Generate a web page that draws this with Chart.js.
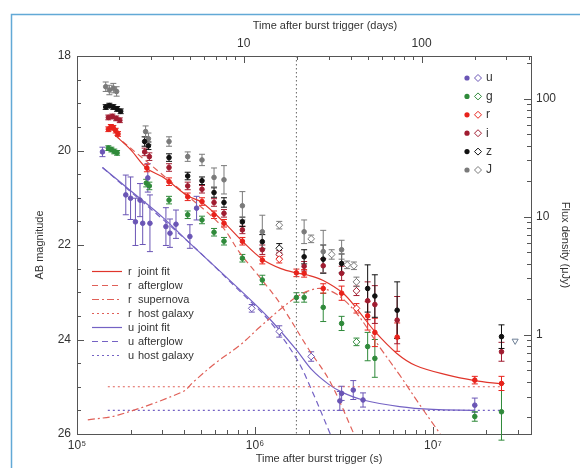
<!DOCTYPE html>
<html>
<head>
<meta charset="utf-8">
<script src="https://cdn.jsdelivr.net/npm/chart.js@4.4.1/dist/chart.umd.min.js"></script>
<style>
  html, body { margin: 0; padding: 0; background: #fff; }
  canvas { display: block; }
</style>
</head>
<body>
<canvas id="lightCurve" width="580" height="468"></canvas>
<script>
// observed points: [time after trigger (s), AB magnitude, 1-sigma error]
const uFilled = [
  [1.39e5, 20.03, 0.10], [1.88e5, 20.94, 0.42], [2.00e5, 21.01, 0.45], [2.13e5, 21.51, 0.50],
  [2.26e5, 21.05, 0.35], [2.34e5, 21.54, 0.45], [2.50e5, 20.58, 0.30], [2.57e5, 21.54, 0.60],
  [3.16e5, 21.61, 0.40], [3.33e5, 21.75, 0.30], [3.60e5, 21.56, 0.30], [4.31e5, 21.82, 0.25],
  [4.70e5, 21.22, 0.25], [3.00e6, 25.30, 0.20], [3.07e6, 25.14, 0.15], [3.57e6, 25.07, 0.20],
  [4.05e6, 25.28, 0.15], [1.72e7, 25.39, 0.15]
];
const uOpen = [[9.6e5, 23.34, 0.08], [1.37e6, 23.83, 0.12], [2.07e6, 24.36, 0.10]];

const gFilled = [
  [1.50e5, 19.95, 0.05], [1.56e5, 19.98, 0.05], [1.62e5, 20.02, 0.05], [1.68e5, 20.05, 0.05],
  [2.45e5, 20.69, 0.08], [2.55e5, 20.75, 0.08], [3.29e5, 21.05, 0.08], [4.19e5, 21.36, 0.08],
  [5.04e5, 21.47, 0.08], [5.89e5, 21.73, 0.08], [6.70e5, 21.92, 0.08], [8.50e5, 22.28, 0.08],
  [1.10e6, 22.74, 0.10], [1.71e6, 23.11, 0.10], [1.89e6, 23.11, 0.10], [2.42e6, 23.32, 0.30],
  [3.07e6, 23.66, 0.15], [4.30e6, 24.15, 0.30], [4.72e6, 24.40, 0.40], [1.72e7, 25.63, 0.10],
  [2.43e7, 25.53, 0.60]
];
const gOpen = [[3.72e6, 24.05, 0.08]];

const rFilled = [
  [1.50e5, 19.55, 0.05], [1.55e5, 19.50, 0.05], [1.60e5, 19.52, 0.05], [1.65e5, 19.58, 0.05],
  [1.70e5, 19.65, 0.05], [2.47e5, 20.37, 0.08], [3.29e5, 20.66, 0.08], [4.19e5, 20.98, 0.08],
  [5.04e5, 21.08, 0.08], [5.89e5, 21.36, 0.08], [6.70e5, 21.54, 0.08], [8.50e5, 21.92, 0.08],
  [1.10e6, 22.32, 0.08], [1.71e6, 22.59, 0.08], [1.89e6, 22.60, 0.08], [2.42e6, 22.92, 0.10],
  [3.07e6, 23.02, 0.15], [4.30e6, 23.50, 0.30], [4.72e6, 23.85, 0.30], [6.30e6, 23.95, 0.30],
  [1.72e7, 24.86, 0.08], [2.43e7, 24.93, 0.15]
];
const rOpen = [[1.37e6, 22.30, 0.08], [3.72e6, 23.34, 0.10]];

const iFilled = [
  [1.50e5, 19.30, 0.05], [1.58e5, 19.28, 0.05], [1.66e5, 19.32, 0.05], [1.74e5, 19.36, 0.05],
  [2.40e5, 20.03, 0.08], [2.55e5, 20.13, 0.08], [3.29e5, 20.36, 0.08], [4.19e5, 20.75, 0.08],
  [5.04e5, 20.82, 0.08], [5.89e5, 21.10, 0.08], [6.70e5, 21.33, 0.08], [8.50e5, 21.68, 0.08],
  [1.10e6, 22.10, 0.10], [1.89e6, 22.45, 0.10], [2.42e6, 22.44, 0.15], [3.07e6, 22.60, 0.15],
  [4.30e6, 23.18, 0.40], [4.72e6, 23.26, 0.40], [6.30e6, 23.59, 0.50], [2.43e7, 24.26, 0.20]
];
const iOpen = [[1.37e6, 22.20, 0.08], [3.72e6, 22.97, 0.10]];

const zFilled = [
  [1.45e5, 19.08, 0.05], [1.52e5, 19.05, 0.05], [1.60e5, 19.08, 0.05], [1.68e5, 19.12, 0.05],
  [1.76e5, 19.17, 0.05], [2.40e5, 19.81, 0.10], [2.52e5, 19.90, 0.08], [3.29e5, 20.15, 0.08],
  [4.19e5, 20.54, 0.08], [5.04e5, 20.64, 0.08], [5.89e5, 20.89, 0.10], [6.70e5, 21.10, 0.10],
  [8.50e5, 21.51, 0.10], [1.10e6, 21.93, 0.15], [1.89e6, 22.25, 0.15], [2.42e6, 22.30, 0.30],
  [3.07e6, 22.39, 0.20], [4.30e6, 22.92, 0.50], [4.72e6, 23.08, 0.45], [6.30e6, 23.38, 0.60],
  [2.43e7, 23.94, 0.25]
];
const zOpen = [[1.37e6, 22.07, 0.10]];

const jFilled = [
  [1.45e5, 18.65, 0.10], [1.52e5, 18.72, 0.10], [1.60e5, 18.68, 0.10], [1.67e5, 18.75, 0.10],
  [2.43e5, 19.60, 0.12], [2.52e5, 19.75, 0.12], [3.29e5, 19.81, 0.10], [4.19e5, 20.13, 0.10],
  [5.04e5, 20.20, 0.12], [5.89e5, 20.57, 0.20], [6.70e5, 20.62, 0.30], [8.50e5, 21.17, 0.30],
  [1.10e6, 21.72, 0.35], [1.89e6, 21.72, 0.25], [2.42e6, 22.14, 0.45], [3.07e6, 22.10, 0.20]
];
const jOpen = [
  [1.37e6, 21.58, 0.08], [2.07e6, 21.87, 0.08], [2.70e6, 22.20, 0.10],
  [3.30e6, 22.42, 0.08], [3.60e6, 22.44, 0.08], [3.72e6, 22.78, 0.10]
];
const upperLimit = [[2.9e7, 24.03]];

// model curves: [time (s), AB magnitude]
const rJoint = [
  [1.63e5, 19.67], [2.0e5, 19.98], [2.47e5, 20.38], [3.0e5, 20.55], [3.3e5, 20.66], [4.19e5, 20.96],
  [5.04e5, 21.1], [6.7e5, 21.52], [8.5e5, 21.92], [1.1e6, 22.3], [1.4e6, 22.5], [1.71e6, 22.59],
  [2.0e6, 22.64], [2.42e6, 22.75], [3.13e6, 23.02], [3.72e6, 23.34], [4.72e6, 23.83], [6.25e6, 24.29],
  [8.0e6, 24.55], [1.2e7, 24.75], [1.72e7, 24.87], [2.43e7, 24.94]
];
const rAfterglow = [
  [1.63e5, 19.67], [4.0e5, 20.9], [6.5e5, 21.6], [8.24e5, 22.17], [1.1e6, 22.75],
  [1.38e6, 23.23], [2.0e6, 24.2], [2.65e6, 24.9], [3.6e6, 26.0]
];
const rSupernova = [
  [1.15e5, 25.7], [1.7e5, 25.6], [3.95e5, 25.1], [4.5e5, 24.9], [6.0e5, 24.5], [8.24e5, 24.12],
  [1.07e6, 23.73], [1.4e6, 23.35], [1.71e6, 23.1], [2.0e6, 22.97], [2.37e6, 22.92], [2.9e6, 23.05],
  [3.72e6, 23.44], [5.0e6, 24.15], [6.5e6, 24.75], [8.5e6, 25.4], [1.1e7, 26.0]
];
const rHost = [[1.49e5, 25.0], [2.43e7, 25.0]];
const uJoint = [
  [1.39e5, 20.36], [2.0e5, 20.85], [3.0e5, 21.4], [4.3e5, 21.96], [8.24e5, 22.95], [1.2e6, 23.55],
  [1.71e6, 24.22], [2.1e6, 24.65], [2.6e6, 24.95], [3.1e6, 25.12], [4.05e6, 25.28], [6.5e6, 25.42],
  [1.0e7, 25.48], [1.72e7, 25.5]
];
const uAfterglow = [
  [1.39e5, 20.36], [4.3e5, 21.96], [8.24e5, 22.98], [1.2e6, 23.6], [1.71e6, 24.4],
  [2.1e6, 25.1], [2.65e6, 26.0]
];
const uHost = [[1.49e5, 25.5], [2.43e7, 25.5]];
const markerTime = 1.71e6;

// axis ticks and titles
const secMajor = [1e5, 1e6, 1e7];
const secLabels = ['10\u2075', '10\u2076', '10\u2077'];
const dayMajor = [10, 100];
const dayLabels = ['10', '100'];
const magMajor = [18, 20, 22, 24, 26];
const fluxMajor = [1, 10, 100];
const fluxLabels = ['1', '10', '100'];
const titleSec = 'Time after burst trigger (s)';
const titleDays = 'Time after burst trigger (days)';

const T_MIN = 1e5, T_MAX = 3.56e7;
const MAG_TOP = 18, MAG_BOTTOM = 26;
const AB_ZERO = 23.9; // AB mag of 1 microJy
const SEC_PER_DAY = 86400;

const TEXT = '#333';
const AXIS = '#555';
const FONT = '"Liberation Sans", Arial, sans-serif';
const bands = [
  { name: 'u', color: '#6a55b5', filled: uFilled, open: uOpen },
  { name: 'g', color: '#2f8a3a', filled: gFilled, open: gOpen },
  { name: 'r', color: '#e8221b', filled: rFilled, open: rOpen },
  { name: 'i', color: '#a01c30', filled: iFilled, open: iOpen },
  { name: 'z', color: '#111111', filled: zFilled, open: zOpen },
  { name: 'J', color: '#7a7a7a', filled: jFilled, open: jOpen }
];
const RED_FIT = '#e0352b', RED_PART = '#e06058', PURPLE_FIT = '#7462c4';
const fits = [
  { band: 'r', name: 'joint fit', pts: rJoint, color: RED_FIT, dash: [] },
  { band: 'r', name: 'afterglow', pts: rAfterglow, color: RED_PART, dash: [6, 4] },
  { band: 'r', name: 'supernova', pts: rSupernova, color: RED_PART, dash: [7, 3, 2, 3] },
  { band: 'r', name: 'host galaxy', pts: rHost, color: RED_PART, dash: [2, 3] },
  { band: 'u', name: 'joint fit', pts: uJoint, color: PURPLE_FIT, dash: [] },
  { band: 'u', name: 'afterglow', pts: uAfterglow, color: PURPLE_FIT, dash: [6, 4] },
  { band: 'u', name: 'host galaxy', pts: uHost, color: PURPLE_FIT, dash: [2, 3] }
];

const toPts = arr => arr.map(([x, y, e]) => ({ x, y, e }));
const logTicks = (lo, hi) => {
  const out = [];
  for (let d = Math.floor(Math.log10(lo)); d <= Math.ceil(Math.log10(hi)); d++) {
    for (let k = 1; k < 10; k++) {
      const v = k * Math.pow(10, d);
      if (v >= lo * 0.9999 && v <= hi * 1.0001) out.push(v);
    }
  }
  return out;
};
const near = (a, b) => Math.abs(a - b) < 1e-6 * Math.max(1, Math.abs(b));
const labelFrom = (majors, labels) => v => {
  const k = majors.findIndex(m => near(v, m));
  return k < 0 ? '' : labels[k];
};
const setTicks = (values, majors) => s => {
  s.ticks = values.map(v => ({ value: v, major: majors.some(m => near(v, m)) }));
};

const datasets = [];
bands.forEach(b => {
  datasets.push({
    data: toPts(b.filled), errorBars: true, borderColor: b.color, backgroundColor: b.color,
    pointStyle: 'circle', pointRadius: 2.3, borderWidth: 1, showLine: false
  });
  datasets.push({
    data: toPts(b.open), errorBars: true, borderColor: b.color, backgroundColor: '#fff',
    pointStyle: 'rectRot', pointRadius: 3.4, borderWidth: 1, showLine: false
  });
});
datasets.push({
  data: toPts(upperLimit), borderColor: '#6d7f96', backgroundColor: '#fff',
  pointStyle: 'triangle', rotation: 180, pointRadius: 3.5, borderWidth: 1, showLine: false
});
fits.forEach(f => {
  datasets.push({
    data: toPts(f.pts), showLine: true, pointRadius: 0, borderColor: f.color, borderWidth: 1.2,
    borderDash: f.dash, tension: f.pts.length > 2 ? 0.35 : 0, fill: false
  });
});
datasets.push({
  data: [{ x: markerTime, y: MAG_TOP }, { x: markerTime, y: MAG_BOTTOM }],
  showLine: true, pointRadius: 0, borderColor: '#666', borderWidth: 1, borderDash: [1.5, 2.5]
});

const errorBarPlugin = {
  id: 'errorBarPlugin',
  beforeDatasetsDraw(chart) {
    const ctx = chart.ctx, ys = chart.scales.y;
    chart.data.datasets.forEach((ds, i) => {
      if (!ds.errorBars) return;
      const meta = chart.getDatasetMeta(i);
      ctx.save();
      ctx.strokeStyle = ds.borderColor;
      ctx.lineWidth = 1;
      meta.data.forEach((pt, j) => {
        const d = ds.data[j];
        const y1 = ys.getPixelForValue(d.y - d.e), y2 = ys.getPixelForValue(d.y + d.e);
        ctx.beginPath();
        ctx.moveTo(pt.x, y1); ctx.lineTo(pt.x, y2);
        ctx.moveTo(pt.x - 3, y1); ctx.lineTo(pt.x + 3, y1);
        ctx.moveTo(pt.x - 3, y2); ctx.lineTo(pt.x + 3, y2);
        ctx.stroke();
      });
      ctx.restore();
    });
  }
};

const inwardTicks = {
  id: 'inwardTicks',
  afterDraw(chart) {
    const { ctx, chartArea: a, scales } = chart;
    ctx.save();
    ctx.strokeStyle = AXIS;
    ctx.lineWidth = 1;
    ['x', 'x2', 'y', 'y2'].forEach(id => {
      const s = scales[id];
      s.ticks.forEach(t => {
        const p = Math.round(s.getPixelForValue(t.value)) + 0.5;
        const len = t.major ? 7 : 4;
        ctx.beginPath();
        if (id === 'x') { ctx.moveTo(p, a.bottom); ctx.lineTo(p, a.bottom - len); }
        if (id === 'x2') { ctx.moveTo(p, a.top); ctx.lineTo(p, a.top + len); }
        if (id === 'y') { ctx.moveTo(a.left, p); ctx.lineTo(a.left + len, p); }
        if (id === 'y2') { ctx.moveTo(a.right, p); ctx.lineTo(a.right - len, p); }
        ctx.stroke();
      });
    });
    ctx.restore();
  }
};

// legends and the two time-axis titles (the originals sit right of the axis centre)
const annotations = {
  id: 'annotations',
  afterDraw(chart) {
    const ctx = chart.ctx;
    ctx.save();
    ctx.textBaseline = 'middle';
    ctx.fillStyle = TEXT;
    ctx.font = '11px ' + FONT;
    ctx.textAlign = 'center';
    ctx.fillText(titleSec, 319, 459);
    ctx.fillText(titleDays, 325, 26);
    ctx.textAlign = 'left';
    fits.forEach((f, k) => {
      const y = 271.5 + k * 14;
      ctx.strokeStyle = f.color;
      ctx.lineWidth = 1.2;
      ctx.setLineDash(f.dash);
      ctx.beginPath(); ctx.moveTo(92, y); ctx.lineTo(122, y); ctx.stroke();
      ctx.setLineDash([]);
      ctx.fillStyle = TEXT;
      ctx.fillText(f.band, 128, y);
      ctx.fillText(f.name, 138, y);
    });
    ctx.font = '12px ' + FONT;
    bands.forEach((b, k) => {
      const y = 78 + k * 18.4;
      ctx.fillStyle = b.color;
      ctx.beginPath(); ctx.arc(467, y, 2.6, 0, Math.PI * 2); ctx.fill();
      ctx.strokeStyle = b.color;
      ctx.lineWidth = 1;
      ctx.beginPath();
      ctx.moveTo(478, y - 3.5); ctx.lineTo(481.5, y); ctx.lineTo(478, y + 3.5); ctx.lineTo(474.5, y);
      ctx.closePath(); ctx.stroke();
      ctx.fillStyle = TEXT;
      ctx.fillText(b.name, 486, y);
    });
    ctx.restore();
  }
};

const frame = {
  id: 'frame',
  beforeDraw(chart) {
    const ctx = chart.ctx;
    ctx.save();
    ctx.strokeStyle = '#62a9d6';
    ctx.lineWidth = 1.5;
    ctx.strokeRect(11.5, 14.5, 600, 500);
    ctx.restore();
  }
};

const fontTick = { family: FONT, size: 12 };
const fontTitle = { family: FONT, size: 11 };

new Chart(document.getElementById('lightCurve').getContext('2d'), {
  type: 'scatter',
  data: { datasets },
  options: {
    responsive: false,
    animation: false,
    devicePixelRatio: 1,
    layout: { padding: 0, autoPadding: false },
    plugins: { legend: { display: false }, tooltip: { enabled: false } },
    scales: {
      x: {
        type: 'logarithmic', position: 'bottom', min: T_MIN, max: T_MAX,
        afterBuildTicks: setTicks(logTicks(T_MIN, T_MAX), secMajor),
        afterFit: s => { s.height = 34; },
        grid: { display: false, drawTicks: false },
        border: { color: AXIS, width: 1 },
        ticks: { autoSkip: false, maxRotation: 0, padding: 4, color: TEXT, font: fontTick,
          callback: labelFrom(secMajor, secLabels) },
        title: { display: false }
      },
      x2: {
        type: 'logarithmic', position: 'top', min: T_MIN / SEC_PER_DAY, max: T_MAX / SEC_PER_DAY,
        afterBuildTicks: setTicks(logTicks(T_MIN / SEC_PER_DAY, T_MAX / SEC_PER_DAY), dayMajor),
        afterFit: s => { s.height = 56; },
        grid: { display: false, drawTicks: false },
        border: { color: AXIS, width: 1 },
        ticks: { autoSkip: false, maxRotation: 0, padding: 5, color: TEXT, font: fontTick,
          callback: labelFrom(dayMajor, dayLabels) },
        title: { display: false }
      },
      y: {
        type: 'linear', position: 'left', reverse: true, min: MAG_TOP, max: MAG_BOTTOM,
        afterBuildTicks: s => {
          const vals = [];
          for (let m = MAG_TOP; m <= MAG_BOTTOM; m += 0.5) vals.push(m);
          setTicks(vals, magMajor)(s);
        },
        afterFit: s => { s.width = 77; },
        grid: { display: false, drawTicks: false },
        border: { color: AXIS, width: 1 },
        ticks: { autoSkip: false, padding: 6, color: TEXT, font: fontTick,
          callback: v => magMajor.includes(v) ? String(v) : '' },
        title: { display: true, text: 'AB magnitude', color: TEXT, font: fontTitle,
          padding: { top: 33.4, bottom: 0 } }
      },
      y2: {
        type: 'logarithmic', position: 'right',
        min: Math.pow(10, (AB_ZERO - MAG_BOTTOM) / 2.5), max: Math.pow(10, (AB_ZERO - MAG_TOP) / 2.5),
        afterBuildTicks: s => setTicks(logTicks(s.min, s.max), fluxMajor)(s),
        afterFit: s => { s.width = 49; },
        grid: { display: false, drawTicks: false },
        border: { color: AXIS, width: 1 },
        ticks: { autoSkip: false, padding: 5, color: TEXT, font: fontTick,
          callback: labelFrom(fluxMajor, fluxLabels) },
        title: { display: true, text: 'Flux density (\u03bcJy)', color: TEXT, font: fontTitle,
          padding: { top: 8.4, bottom: 0 } }
      }
    }
  },
  plugins: [frame, errorBarPlugin, inwardTicks, annotations]
});
</script>
</body>
</html>
